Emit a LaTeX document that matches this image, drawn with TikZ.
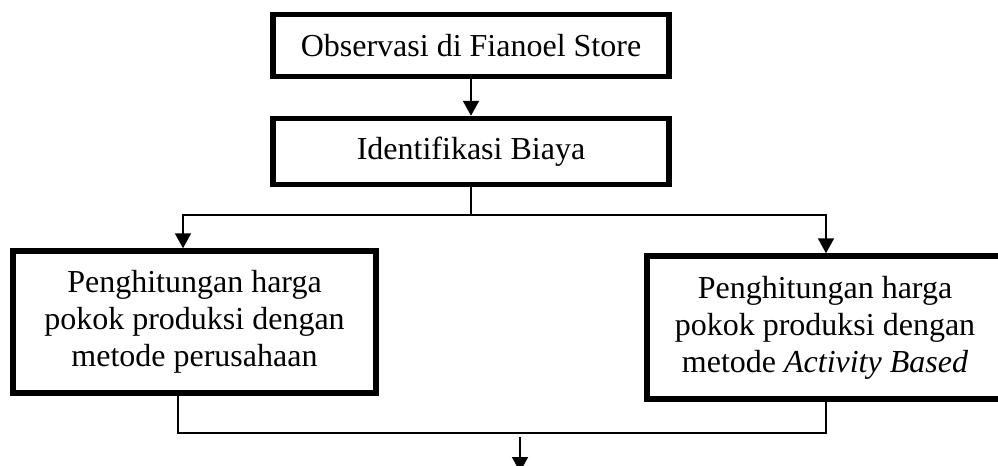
\documentclass[tikz,border=0pt]{standalone}
\usepackage{fontspec}
\setmainfont{Liberation Serif}
\usetikzlibrary{
  arrows.meta,
  positioning
}
\tikzset{
  kotak/.style={draw, line width=2.75pt, inner sep=0pt, align=center,
    font=\fontsize{16}{18.5}\selectfont},
  garis/.style={line width=1pt},
  panah/.style={line width=1pt, -{Triangle[width=8pt,length=7.5pt]}}
}

\begin{document}
\begin{tikzpicture}[x=0.5pt, y=-0.5pt]
  \useasboundingbox (0,0) rectangle (998,466);

        % kotak-kotak proses
        \node [kotak, minimum width=198pt, minimum height=31pt] (obs) at (471, 45.5)
          {Observasi di Fianoel Store};
        \node [kotak, minimum width=198pt, minimum height=33pt] (idb) at (471, 151.5)
          {Identifikasi Biaya};
        \node [kotak, minimum width=181.5pt, minimum height=71pt] (hpp1) at (194.5, 322)
          {Penghitungan harga\\pokok produksi dengan\\metode perusahaan};
        \node [kotak, minimum width=178pt, minimum height=71.5pt] (hpp2) at (825, 327.5)
          {Penghitungan harga\\pokok produksi dengan\\metode \textit{Activity Based}};

        % titik bantu
        \coordinate (cabang) at (471, 215);
        \coordinate (kiri) at (183, 215);
        \coordinate (kanan) at (826, 215);
        \coordinate (bawahkiri) at (178, 433);
        \coordinate (bawahkanan) at (826, 433);
        \coordinate (gabung) at (520, 437);
        \coordinate (lanjut) at (520, 472);

	\draw[panah] (obs) -- (idb);
	\draw[garis] (idb) -- (cabang);
	\draw[panah] (cabang) -- (kiri) -- (kiri |- hpp1.north);
	\draw[panah] (cabang) -- (kanan) -- (kanan |- hpp2.north);

	\draw[garis] (bawahkiri |- hpp1.south) -- (bawahkiri) -- (bawahkanan)
	  -- (bawahkanan |- hpp2.south);
	\draw[panah] (gabung) -- (lanjut);

\end{tikzpicture}
\end{document}
